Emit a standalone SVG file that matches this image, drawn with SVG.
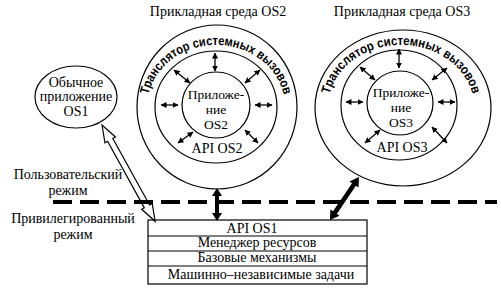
<svg xmlns="http://www.w3.org/2000/svg" width="501" height="295" viewBox="0 0 501 295">
<style>
.s{font-family:"Liberation Serif","Times New Roman",serif;font-size:14px;fill:#000;text-anchor:middle}
.i{font-size:13.5px}
.c{font-family:"Liberation Sans",Arial,sans-serif;font-size:13px;font-weight:bold;fill:#000;text-anchor:middle}
.o{fill:none;stroke:#000;stroke-width:1.2}
.w{fill:#fff;stroke:#000;stroke-width:1.2}
.a{stroke:#000;stroke-width:1.3;marker-start:url(#h);marker-end:url(#h)}
.b{fill:#000}
</style>
<defs>
<marker id="h" markerUnits="userSpaceOnUse" markerWidth="6" markerHeight="6" refX="5.5" refY="3" orient="auto-start-reverse">
<path d="M0,0 L6,3 L0,6 z" fill="#000"/>
</marker>
<path id="p2" d="M147,107 A69,62 0 0 1 285,107"/>
<path id="p3" d="M328,107 A73,62 0 0 1 474,107"/>
</defs>
<rect width="501" height="295" fill="#fff"/>

<g id="os2">
<text class="s" x="218" y="16">Прикладная среда OS2</text>
<ellipse class="o" cx="217" cy="107" rx="80" ry="82"/>
<ellipse class="o" cx="216" cy="107" rx="61" ry="56"/>
<ellipse class="o" cx="216" cy="105" rx="34" ry="33"/>
<text class="c"><textPath href="#p2" startOffset="50%" textLength="181" lengthAdjust="spacingAndGlyphs">Транслятор системных вызовов</textPath></text>
<text class="s i" x="216" y="99">Приложе-</text>
<text class="s i" x="216" y="114">ние</text>
<text class="s i" x="216" y="129">OS2</text>
<text class="s" x="217" y="153">API OS2</text>
<line class="a" x1="215" y1="53" x2="215" y2="71"/>
<line class="a" x1="174" y1="70" x2="190" y2="83"/>
<line class="a" x1="260" y1="70" x2="245" y2="83"/>
<line class="a" x1="161" y1="105" x2="178" y2="105"/>
<line class="a" x1="255" y1="105" x2="272" y2="105"/>
<line class="a" x1="178" y1="143" x2="193" y2="132"/>
<line class="a" x1="258" y1="143" x2="245" y2="130"/>
</g>

<g id="os3">
<text class="s" x="402" y="16">Прикладная среда OS3</text>
<ellipse class="o" cx="403" cy="108" rx="88" ry="78"/>
<ellipse class="o" cx="399" cy="105" rx="58" ry="55"/>
<ellipse class="o" cx="400" cy="103" rx="33" ry="32"/>
<text class="c"><textPath href="#p3" startOffset="50%" textLength="186" lengthAdjust="spacingAndGlyphs">Транслятор системных вызовов</textPath></text>
<text class="s i" x="401" y="97">Приложе-</text>
<text class="s i" x="401" y="112">ние</text>
<text class="s i" x="401" y="127">OS3</text>
<text class="s" x="402" y="152">API OS3</text>
<line class="a" x1="399" y1="49" x2="399" y2="68"/>
<line class="a" x1="360" y1="67" x2="375" y2="80"/>
<line class="a" x1="447" y1="68" x2="432" y2="80"/>
<line class="a" x1="346" y1="102" x2="363" y2="102"/>
<line class="a" x1="438" y1="102" x2="455" y2="102"/>
<line class="a" x1="365" y1="143" x2="380" y2="130"/>
<line class="a" x1="432" y1="127" x2="447" y2="143"/>
</g>

<g id="os1">
<ellipse class="o" cx="76" cy="97" rx="41" ry="31"/>
<text class="s" x="76" y="87">Обычное</text>
<text class="s" x="76" y="101">приложение</text>
<text class="s" x="76" y="116">OS1</text>
</g>

<g id="modes">
<text class="s" x="68" y="179">Пользовательский</text>
<text class="s" x="68" y="195">режим</text>
<text class="s" x="73" y="223">Привилегированный</text>
<text class="s" x="73" y="239">режим</text>
</g>

<g id="kernel">
<rect class="o" x="148" y="220" width="219" height="64"/>
<line class="o" x1="148" y1="236" x2="367" y2="236"/>
<line class="o" x1="148" y1="251" x2="367" y2="251"/>
<line class="o" x1="148" y1="266" x2="367" y2="266"/>
<text class="s" x="252" y="232.5">API OS1</text>
<text class="s" x="257" y="247">Менеджер ресурсов</text>
<text class="s" x="257" y="262">Базовые механизмы</text>
<text class="s" x="261" y="279">Машинно–независимые задачи</text>
</g>

<g id="connectors">
<polygon class="w" transform="translate(102,125) rotate(61.1)" points="0,0 17,6 17,3 93,3 93,6 110,0 93,-6 93,-3 17,-3 17,-6"/>
<line x1="53" y1="202" x2="497" y2="202" stroke="#000" stroke-width="4" stroke-dasharray="19 8"/>
<polygon class="b" transform="translate(217,188) rotate(90)" points="0,0 8,5 8,2 25,2 25,5 33,0 25,-5 25,-2 8,-2 8,-5"/>
<polygon class="b" transform="translate(359,177) rotate(124)" points="0,0 9,5.5 9,2.3 43,2.3 43,5.5 52,0 43,-5.5 43,-2.3 9,-2.3 9,-5.5"/>
</g>
</svg>
